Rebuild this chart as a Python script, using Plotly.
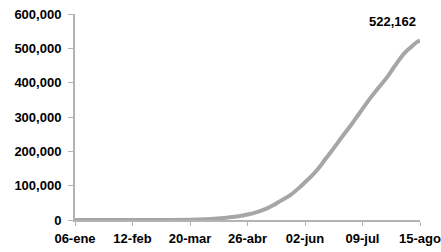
import plotly.graph_objects as go

dates = ["2020-01-06", "2020-02-12", "2020-03-06", "2020-03-20", "2020-03-30",
         "2020-04-09", "2020-04-16", "2020-04-22", "2020-04-26", "2020-04-30",
         "2020-05-04", "2020-05-09", "2020-05-13", "2020-05-17", "2020-05-24",
         "2020-05-30", "2020-06-02", "2020-06-06", "2020-06-11", "2020-06-15",
         "2020-06-19", "2020-06-26", "2020-07-02", "2020-07-07", "2020-07-14",
         "2020-07-18", "2020-07-25", "2020-07-30", "2020-08-05", "2020-08-10",
         "2020-08-13", "2020-08-15"]
cases = [0, 0, 50, 500, 2000,
         5000, 8500, 12500, 16000, 20000,
         26000, 34500, 44000, 55000, 74000,
         97000, 110000, 127000, 152000, 177000,
         200000, 243000, 279000, 311000, 355000,
         378000, 417000, 450000, 486000, 507000,
         518000, 522162]

tick_dates = ["2020-01-06", "2020-02-12", "2020-03-20", "2020-04-26",
              "2020-06-02", "2020-07-09", "2020-08-15"]
tick_labels = ["06-ene", "12-feb", "20-mar", "26-abr", "02-jun", "09-jul", "15-ago"]
y_ticks = [0, 100000, 200000, 300000, 400000, 500000, 600000]

font = dict(family="Liberation Sans, Arial, sans-serif", size=13, color="#000000")

fig = go.Figure()
fig.add_trace(go.Scatter(x=dates, y=cases, mode="lines",
                         line=dict(color="#A6A6A6", width=4, shape="spline"),
                         hoverinfo="skip", showlegend=False, cliponaxis=False))

fig.add_annotation(x=dates[-1], y=cases[-1], text="<b>{:,}</b>".format(cases[-1]),
                   showarrow=False, xshift=-28, yshift=19, font=font)

fig.update_layout(
    width=441, height=252,
    margin=dict(l=75, r=21, t=14, b=32, autoexpand=False),
    paper_bgcolor="white", plot_bgcolor="white",
    font=font,
    xaxis=dict(range=["2020-01-06", "2020-08-15"], tickvals=tick_dates, ticktext=["<b>%s</b>" % t for t in tick_labels],
               showgrid=False, zeroline=False, showline=True, linecolor="#B3B3B3", linewidth=2,
               ticks="outside", ticklen=4, tickcolor="#B3B3B3", tickwidth=1, tickfont=font,
               ticklabeloverflow="allow", ticklabelstandoff=1),
    yaxis=dict(range=[0, 600000], tickvals=y_ticks, ticktext=["<b>{:,}</b>".format(v) for v in y_ticks],
               showgrid=False, zeroline=False, showline=True, linecolor="#B3B3B3", linewidth=2,
               ticks="outside", ticklen=5, tickcolor="#B3B3B3", tickwidth=1, tickfont=font,
               ticklabelstandoff=4, ticklabeloverflow="allow"),
)

fig.write_html("out.html", config={"displayModeBar": False, "staticPlot": True},
               post_script="document.body.style.margin='0';document.body.style.overflow='hidden';")
